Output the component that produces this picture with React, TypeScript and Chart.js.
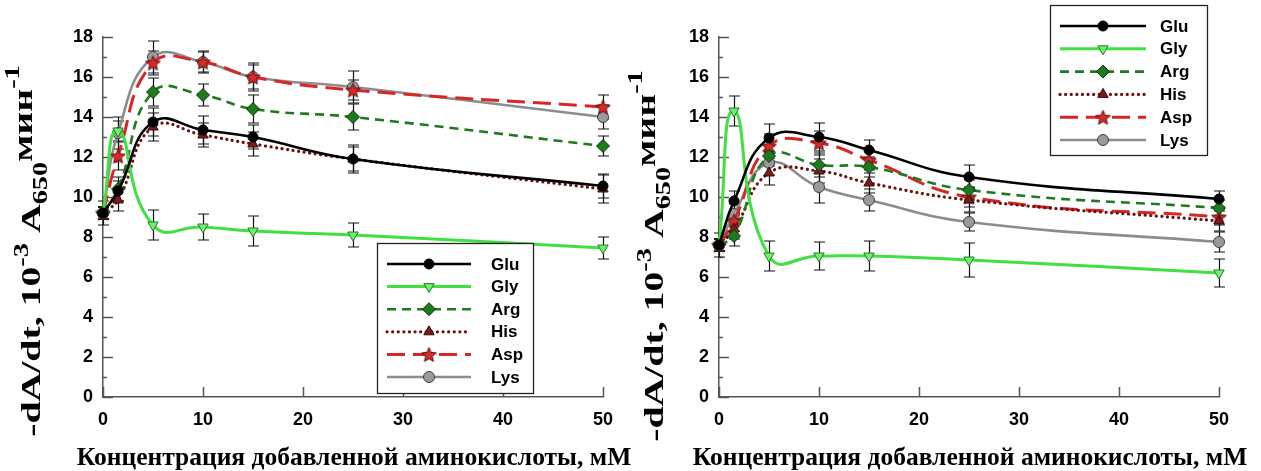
import React, { useEffect, useRef } from "react";
import { Chart, registerables } from "chart.js";
import { drawPoint } from "chart.js/helpers";

Chart.register(...registerables);

// Added amino-acid concentration, mM
const concentrations = [0, 1.5, 5, 10, 15, 25, 50];
const seriesNames = ["Glu", "Gly", "Arg", "His", "Asp", "Lys"];

// Left panel: -dA/dt, 10^-3 A650/min
const gluLeft = [9.2, 10.3, 13.75, 13.35, 13.0, 11.9, 10.55];
const glyLeft = [9.2, 13.3, 8.6, 8.5, 8.3, 8.1, 7.45];
const argLeft = [9.2, 10.4, 15.25, 15.1, 14.4, 14.0, 12.55];
const hisLeft = [9.2, 9.85, 13.5, 13.1, 12.65, 11.9, 10.4];
const aspLeft = [9.2, 12.05, 16.7, 16.75, 16.0, 15.35, 14.5];
const lysLeft = [9.2, 13.2, 17.0, 16.75, 16.0, 15.5, 14.0];

const gluLeftErr = [0.3, 0.5, 0.7, 0.7, 0.6, 0.7, 0.6];
const glyLeftErr = [0.3, 0.5, 0.75, 0.65, 0.75, 0.6, 0.55];
const argLeftErr = [0.3, 0.6, 0.7, 0.55, 0.7, 0.65, 0.5];
const hisLeftErr = [0.6, 0.55, 0.7, 0.6, 0.6, 0.6, 0.7];
const aspLeftErr = [0.3, 0.7, 0.6, 0.5, 0.7, 0.5, 0.6];
const lysLeftErr = [0.3, 0.8, 0.8, 0.55, 0.6, 0.8, 0.6];

// Right panel
const gluRight = [7.6, 9.8, 12.95, 13.0, 12.35, 11.0, 9.9];
const glyRight = [7.6, 14.3, 7.05, 7.05, 7.05, 6.85, 6.2];
const argRight = [7.6, 8.05, 12.05, 11.6, 11.5, 10.35, 9.45];
const hisRight = [7.6, 8.4, 11.2, 11.3, 10.7, 9.85, 8.8];
const aspRight = [7.6, 8.8, 12.55, 12.7, 11.85, 10.0, 9.0];
const lysRight = [7.6, 9.15, 11.7, 10.5, 9.85, 8.75, 7.75];

const gluRightErr = [0.3, 0.5, 0.7, 0.7, 0.5, 0.6, 0.4];
const glyRightErr = [0.3, 0.75, 0.75, 0.7, 0.75, 0.85, 0.7];
const argRightErr = [0.3, 0.5, 0.5, 0.6, 0.5, 0.5, 0.4];
const hisRightErr = [0.6, 0.5, 0.6, 0.6, 0.5, 0.6, 0.5];
const aspRightErr = [0.3, 0.5, 0.6, 0.6, 0.5, 0.5, 0.4];
const lysRightErr = [0.3, 0.5, 0.6, 0.8, 0.55, 0.45, 0.5];

const yMin = 0;
const yMax = 18;
const yStep = 2;
const xMin = 0;
const xMax = 50;
const xStep = 10;

const xTitle = "Концентрация добавленной аминокислоты, мМ";
const yTitleParts = [
  { text: "-dA/dt, 10", kind: "base" },
  { text: "-3", kind: "sup" },
  { text: " A", kind: "base" },
  { text: "650", kind: "sub" },
  { text: "мин", kind: "raised" },
  { text: "-1", kind: "sup2" },
];

function makeStar(size: number, fill: string, stroke: string) {
  const c = document.createElement("canvas");
  c.width = size;
  c.height = size;
  const ctx = c.getContext("2d")!;
  const cx = size / 2;
  const cy = size / 2 + 0.8;
  const R = size / 2 - 0.8;
  const r = R * 0.45;
  ctx.beginPath();
  for (let i = 0; i < 10; i++) {
    const a = -Math.PI / 2 + (i * Math.PI) / 5;
    const rad = i % 2 === 0 ? R : r;
    ctx.lineTo(cx + rad * Math.cos(a), cy + rad * Math.sin(a));
  }
  ctx.closePath();
  ctx.fillStyle = fill;
  ctx.fill();
  ctx.strokeStyle = stroke;
  ctx.lineWidth = 1;
  ctx.stroke();
  return c;
}

type SeriesStyle = {
  color: string;
  width: number;
  dash: number[];
  cap: CanvasLineCap;
  point: any;
  radius: number;
  fill: string;
  edge: string;
  edgeWidth: number;
  rotation: number;
  tension: number;
};

function buildStyles(): SeriesStyle[] {
  const star = makeStar(17, "#d42a2a", "#5a0a0a");
  return [
    { color: "#000000", width: 2.6, dash: [], cap: "butt", point: "circle", radius: 5, fill: "#000000", edge: "#000000", edgeWidth: 1, rotation: 0, tension: 0.45 },
    { color: "#3fe03f", width: 3, dash: [], cap: "butt", point: "triangle", radius: 6, fill: "#6ef06e", edge: "#2a7a2a", edgeWidth: 1, rotation: 180, tension: 0.52 },
    { color: "#1f7a1f", width: 2.6, dash: [9, 6], cap: "butt", point: "rectRot", radius: 6.5, fill: "#1f7a1f", edge: "#0a300a", edgeWidth: 1, rotation: 0, tension: 0.45 },
    { color: "#6a1212", width: 3.2, dash: [0.1, 5.5], cap: "round", point: "triangle", radius: 6, fill: "#7a1a1a", edge: "#3a0808", edgeWidth: 1, rotation: 0, tension: 0.45 },
    { color: "#d82626", width: 3, dash: [18, 8], cap: "butt", point: star, radius: 8, fill: "#d42a2a", edge: "#5a0a0a", edgeWidth: 1, rotation: 0, tension: 0.45 },
    { color: "#8c8c8c", width: 2.6, dash: [], cap: "butt", point: "circle", radius: 5.5, fill: "#9a9a9a", edge: "#404040", edgeWidth: 1, rotation: 0, tension: 0.45 },
  ];
}

type LegendLayout = {
  box: [number, number, number, number];
  lineX1: number;
  lineX2: number;
  markerX: number;
  textX: number;
  firstRow: number;
  step: number;
};

type PanelProps = {
  values: number[][];
  errors: number[][];
  canvasLeft: number;
  canvasWidth: number;
  plotLeft: number;
  plotRight: number;
  legend: LegendLayout;
  yTitleX: number;
  yTitleY: number;
  xTitleX: number;
};

const CANVAS_H = 471;
const PLOT_TOP = 37;
const PLOT_BOTTOM = 397;

// Vertical axis title with super/subscripts, stretched along the text direction
function drawRichVertical(ctx: CanvasRenderingContext2D, cx: number, cy: number) {
  const base = 28;
  const small = 20;
  const stretch = 1.42;
  const fontFor = (k: string) =>
    `bold ${k === "base" || k === "raised" ? base : small}px "Liberation Serif", "Times New Roman", serif`;
  const shift: Record<string, number> = { base: 0, sup: -12, sub: 7, raised: -8, sup2: -21 };
  let total = 0;
  for (const p of yTitleParts) {
    ctx.font = fontFor(p.kind);
    total += ctx.measureText(p.text).width;
  }
  ctx.save();
  ctx.translate(cx, cy);
  ctx.rotate(-Math.PI / 2);
  ctx.scale(stretch, 1);
  ctx.fillStyle = "#000";
  ctx.textBaseline = "alphabetic";
  ctx.textAlign = "left";
  let x = -total / 2;
  for (const p of yTitleParts) {
    ctx.font = fontFor(p.kind);
    ctx.fillText(p.text, x, 10 + shift[p.kind]);
    x += ctx.measureText(p.text).width;
  }
  ctx.restore();
}

function Panel(props: PanelProps) {
  const ref = useRef<HTMLCanvasElement>(null);

  useEffect(() => {
    const canvas = ref.current;
    if (!canvas) return;
    const styles = buildStyles();

    const datasets = seriesNames.map((name, i) => {
      const s = styles[i];
      return {
        label: name,
        data: concentrations.map((x, j) => ({ x, y: props.values[i][j] })),
        borderColor: s.color,
        borderWidth: s.width,
        borderDash: s.dash,
        borderCapStyle: s.cap,
        pointStyle: s.point,
        pointRadius: s.radius,
        pointBackgroundColor: s.fill,
        pointBorderColor: s.edge,
        pointBorderWidth: s.edgeWidth,
        pointRotation: s.rotation,
        tension: s.tension,
        fill: false,
        clip: false as any,
      };
    });

    const decorations = {
      id: "decorations",
      beforeDatasetsDraw(chart: any) {
        const ctx: CanvasRenderingContext2D = chart.ctx;
        const xs = chart.scales.x;
        const ys = chart.scales.y;
        const area = chart.chartArea;
        ctx.save();
        // inward axis ticks
        ctx.strokeStyle = "#555";
        ctx.lineWidth = 1.5;
        for (let v = yMin; v <= yMax; v += 1) {
          const y = Math.round(ys.getPixelForValue(v)) + 0.5;
          const len = v % yStep === 0 ? 10 : 4;
          ctx.beginPath();
          ctx.moveTo(area.left, y);
          ctx.lineTo(area.left + len, y);
          ctx.stroke();
        }
        for (let v = xMin; v <= xMax; v += xStep) {
          const x = Math.round(xs.getPixelForValue(v)) + 0.5;
          ctx.beginPath();
          ctx.moveTo(x, area.bottom);
          ctx.lineTo(x, area.bottom - 10);
          ctx.stroke();
        }
        // error bars
        ctx.strokeStyle = "#111";
        ctx.lineWidth = 1.2;
        props.values.forEach((vals, i) => {
          vals.forEach((v, j) => {
            const e = props.errors[i][j];
            const x = Math.round(xs.getPixelForValue(concentrations[j])) + 0.5;
            const y1 = ys.getPixelForValue(v + e);
            const y2 = ys.getPixelForValue(v - e);
            ctx.beginPath();
            ctx.moveTo(x, y1);
            ctx.lineTo(x, y2);
            ctx.moveTo(x - 5.5, y1);
            ctx.lineTo(x + 5.5, y1);
            ctx.moveTo(x - 5.5, y2);
            ctx.lineTo(x + 5.5, y2);
            ctx.stroke();
          });
        });
        ctx.restore();
      },
      afterDraw(chart: any) {
        const ctx: CanvasRenderingContext2D = chart.ctx;
        const L = props.legend;
        ctx.save();
        // legend
        const [bx, by, bw, bh] = L.box;
        ctx.fillStyle = "#fff";
        ctx.fillRect(bx, by, bw, bh);
        ctx.strokeStyle = "#222";
        ctx.lineWidth = 1.3;
        ctx.strokeRect(bx + 0.5, by + 0.5, bw, bh);
        styles.forEach((s, i) => {
          const y = L.firstRow + i * L.step;
          ctx.beginPath();
          ctx.setLineDash(s.dash);
          ctx.lineCap = s.cap;
          ctx.strokeStyle = s.color;
          ctx.lineWidth = s.width;
          ctx.moveTo(L.lineX1, y);
          ctx.lineTo(L.lineX2, y);
          ctx.stroke();
          ctx.setLineDash([]);
          ctx.lineCap = "butt";
          ctx.fillStyle = s.fill;
          ctx.strokeStyle = s.edge;
          ctx.lineWidth = s.edgeWidth;
          drawPoint(ctx, { pointStyle: s.point, rotation: s.rotation, radius: s.radius, borderWidth: s.edgeWidth } as any, L.markerX, y);
          ctx.fillStyle = "#000";
          ctx.font = 'bold 17px "Liberation Sans", Arial, sans-serif';
          ctx.textAlign = "left";
          ctx.textBaseline = "middle";
          ctx.fillText(seriesNames[i], L.textX, y + 1);
        });
        // axis titles
        ctx.fillStyle = "#000";
        ctx.font = 'bold 25.5px "Liberation Serif", "Times New Roman", serif';
        ctx.textAlign = "center";
        ctx.textBaseline = "alphabetic";
        ctx.fillText(xTitle, props.xTitleX, 465);
        drawRichVertical(ctx, props.yTitleX, props.yTitleY);
        ctx.restore();
      },
    };

    const tickFont = { family: '"Liberation Sans", Arial, sans-serif', size: 18, weight: "bold" as const };

    const chart = new Chart(canvas, {
      type: "line",
      data: { datasets: datasets as any },
      options: {
        animation: false,
        responsive: false,
        devicePixelRatio: 1,
        events: [],
        layout: { padding: { top: PLOT_TOP, right: props.canvasWidth - props.plotRight, left: 0, bottom: 0 } },
        plugins: { legend: { display: false }, tooltip: { enabled: false } },
        scales: {
          x: {
            type: "linear",
            min: xMin,
            max: xMax,
            ticks: { stepSize: xStep, font: tickFont, color: "#000", padding: 12 },
            grid: { display: false, drawTicks: false },
            border: { display: true, color: "#555", width: 1.5 },
            afterFit: (s: any) => {
              s.height = CANVAS_H - PLOT_BOTTOM;
            },
          },
          y: {
            type: "linear",
            min: yMin,
            max: yMax,
            ticks: { stepSize: yStep, font: tickFont, color: "#000", padding: 10 },
            grid: { display: false, drawTicks: false },
            border: { display: true, color: "#555", width: 1.5 },
            afterFit: (s: any) => {
              s.width = props.plotLeft;
            },
          },
        },
      },
      plugins: [decorations],
    });
    return () => chart.destroy();
  }, []);

  return (
    <canvas
      ref={ref}
      width={props.canvasWidth}
      height={CANVAS_H}
      style={{ position: "absolute", left: props.canvasLeft, top: 0, width: props.canvasWidth, height: CANVAS_H, display: "block" }}
    />
  );
}

export default function App() {
  // The two transparent canvases overlap slightly so the right panel's
  // axis title has room next to the left panel's x-axis title.
  return (
    <div style={{ position: "absolute", left: 0, top: 0, width: 1261, height: 471, background: "#fff" }}>
      <Panel
        values={[gluLeft, glyLeft, argLeft, hisLeft, aspLeft, lysLeft]}
        errors={[gluLeftErr, glyLeftErr, argLeftErr, hisLeftErr, aspLeftErr, lysLeftErr]}
        canvasLeft={0}
        canvasWidth={640}
        plotLeft={103}
        plotRight={603}
        legend={{ box: [377, 243, 156, 150], lineX1: 387, lineX2: 471, markerX: 429, textX: 491, firstRow: 264, step: 22.6 }}
        yTitleX={30}
        yTitleY={251}
        xTitleX={354}
      />
      <Panel
        values={[gluRight, glyRight, argRight, hisRight, aspRight, lysRight]}
        errors={[gluRightErr, glyRightErr, argRightErr, hisRightErr, aspRightErr, lysRightErr]}
        canvasLeft={600}
        canvasWidth={661}
        plotLeft={119}
        plotRight={619}
        legend={{ box: [450, 5, 157, 150], lineX1: 460, lineX2: 546, markerX: 503, textX: 560, firstRow: 26, step: 22.8 }}
        yTitleX={53}
        yTitleY={256}
        xTitleX={370}
      />
    </div>
  );
}
